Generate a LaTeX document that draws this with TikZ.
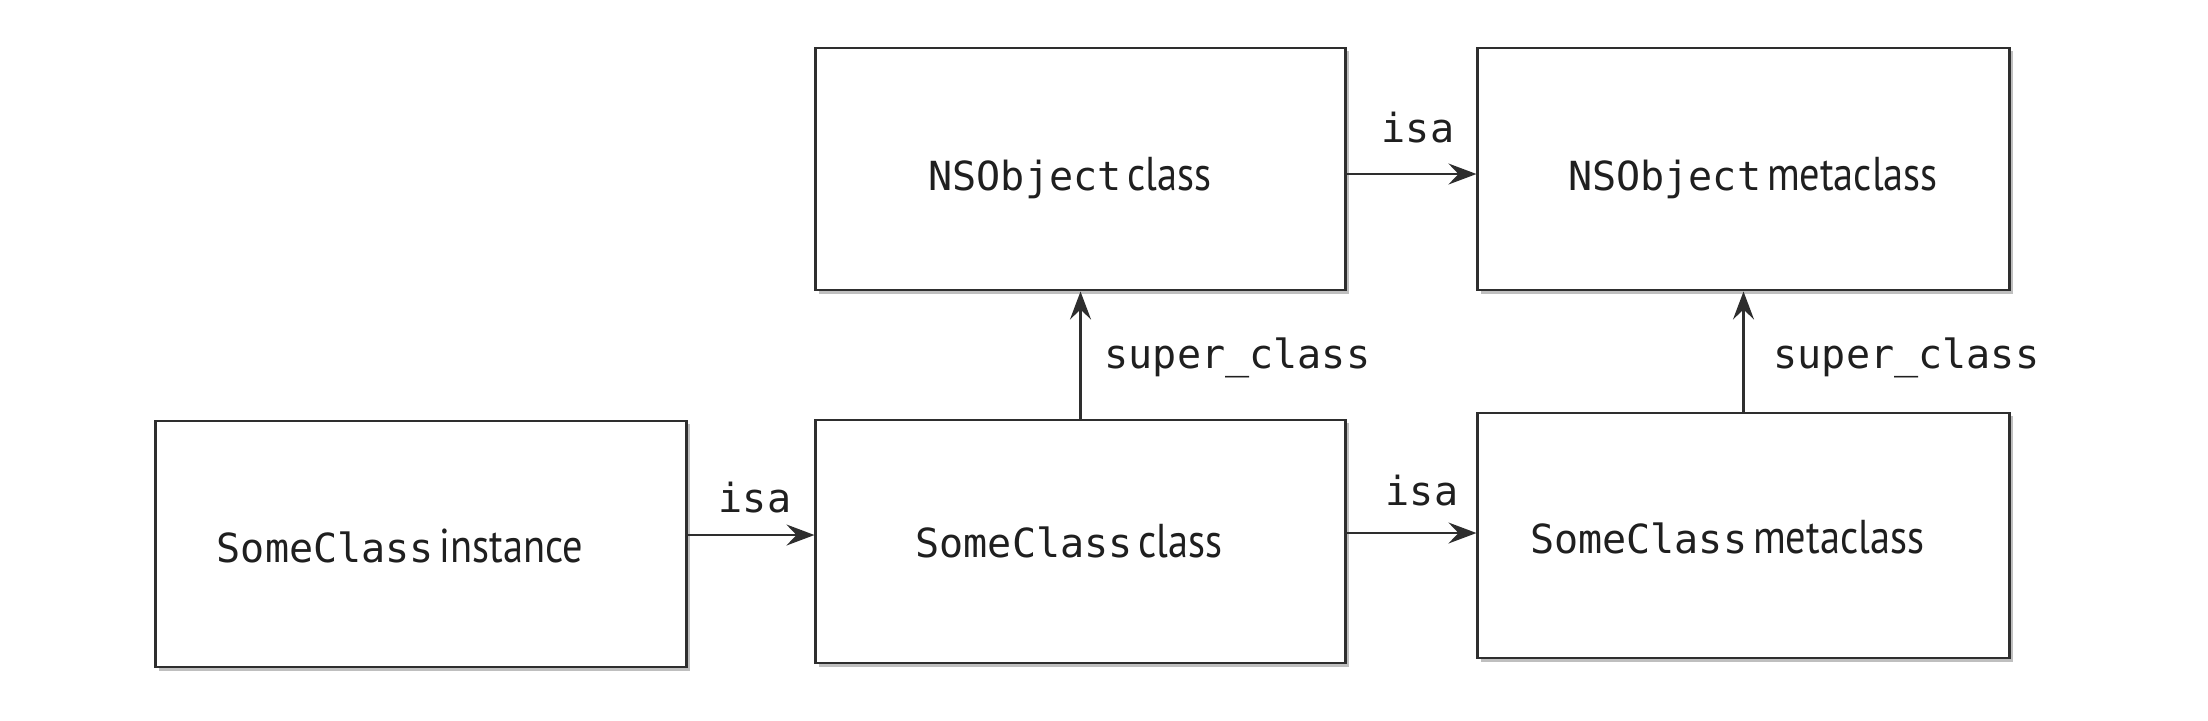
\documentclass[tikz,border=0pt]{standalone}
\usepackage{fontspec}
\setmainfont{PT Sans}
\newfontfamily\monofam{DejaVu Sans Mono}
\newfontfamily\condfam[FakeStretch=0.85]{PT Sans}
\usetikzlibrary{arrows.meta,shadows}
\newcommand\mtx[1]{{\monofam\fontsize{11.4}{13}\selectfont #1}}
\newcommand\stx[1]{{\condfam\fontsize{13.5}{15}\selectfont #1}}
\begin{document}
\begin{tikzpicture}[x=0.01cm,y=-0.01cm,
  box/.style={draw=black!82, line width=0.8pt, fill=white, rectangle, inner sep=0pt,
    drop shadow={shadow xshift=0.035cm, shadow yshift=-0.035cm, opacity=0.45, fill=black!55}},
  txt/.style={inner sep=0pt, anchor=base, text=black!88},
  arr/.style={draw=black!82, line width=0.6pt, -{Stealth[length=2.8mm,width=2.1mm,inset=1mm]}},
]
\useasboundingbox (0,0) rectangle (2208,720);
\fill[white] (0,0) rectangle (2208,720);

\node[box, minimum width=5.30cm, minimum height=2.46cm] (inst) at (421,544) {};
\node[box, minimum width=5.29cm, minimum height=2.43cm] (cls) at (1080.5,541.5) {};
\node[box, minimum width=5.31cm, minimum height=2.45cm] (meta) at (1743.5,535.5) {};
\node[box, minimum width=5.29cm, minimum height=2.42cm] (nsc) at (1080.5,169) {};
\node[box, minimum width=5.31cm, minimum height=2.42cm] (nsm) at (1743.5,169) {};

\node[txt] (instT) at (400,562) {\mtx{SomeClass}\,\stx{instance}};
\node[txt] (clsT) at (1069,557) {\mtx{SomeClass}\,\stx{class}};
\node[txt] (metaT) at (1727,553) {\mtx{SomeClass}\,\stx{metaclass}};
\node[txt] (nscT) at (1070,190) {\mtx{NSObject}\,\stx{class}};
\node[txt] (nsmT) at (1753,190) {\mtx{NSObject}\,\stx{metaclass}};

\coordinate (a1) at (0,535);
\coordinate (a2) at (0,533);
\coordinate (a3) at (0,174);
\draw[arr] (inst.east |- a1) -- (cls.west |- a1);
\draw[arr] (cls.east |- a2) -- (meta.west |- a2);
\draw[arr] (nsc.east |- a3) -- (nsm.west |- a3);
\draw[arr] (cls.north) -- (nsc.south);
\draw[arr] (meta.north) -- (nsm.south);

\node[txt] (isa1) at (755,512) {\mtx{isa}};
\node[txt] (isa2) at (1422,505) {\mtx{isa}};
\node[txt] (isa3) at (1418,142) {\mtx{isa}};
\node[txt, anchor=base west] (sup1) at (1104,368) {\mtx{super\_class}};
\node[txt, anchor=base west] (sup2) at (1773,368) {\mtx{super\_class}};
\end{tikzpicture}
\end{document}
